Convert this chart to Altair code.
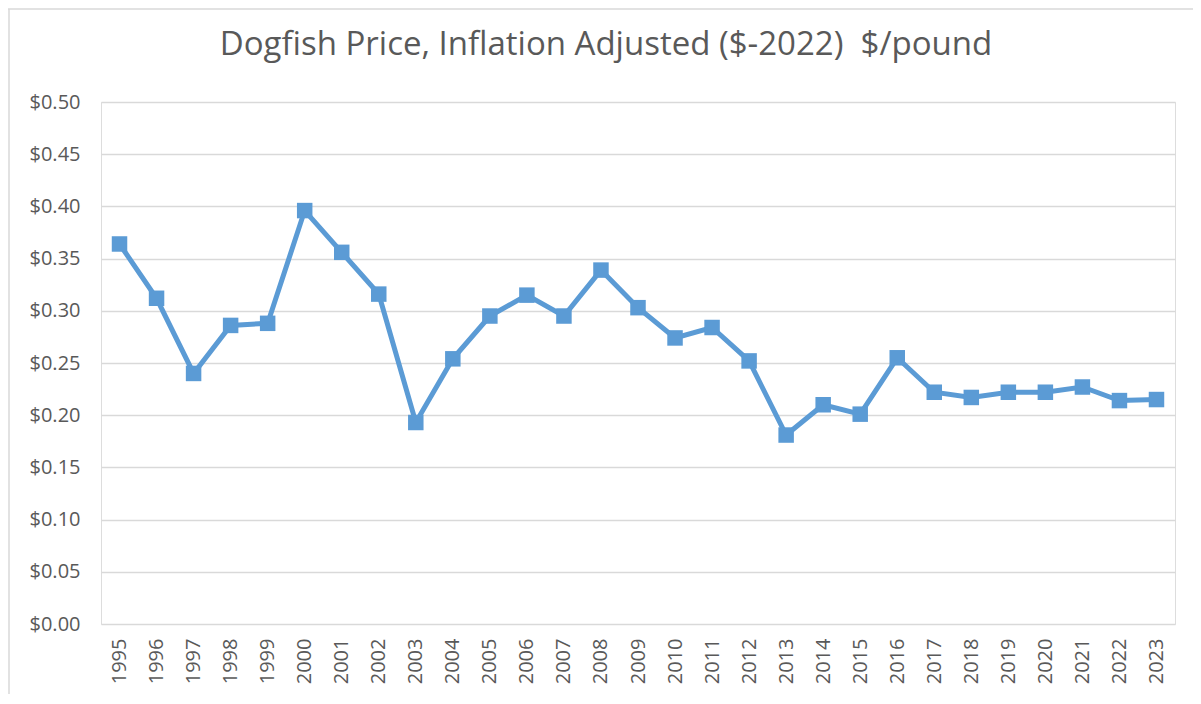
import altair as alt
import pandas as pd

years = [str(y) for y in range(1995, 2024)]
prices = [0.364, 0.312, 0.240, 0.286, 0.288, 0.396, 0.356, 0.316, 0.193, 0.254,
          0.295, 0.315, 0.295, 0.339, 0.303, 0.274, 0.284, 0.252, 0.181, 0.210,
          0.201, 0.255, 0.222, 0.217, 0.222, 0.222, 0.227, 0.214, 0.215]
y_ticks = [0, 0.05, 0.1, 0.15, 0.2, 0.25, 0.3, 0.35, 0.4, 0.45, 0.5]
title_text = "Dogfish Price, Inflation Adjusted ($-2022)\u00a0 $/pound"

df = pd.DataFrame({"year": years, "price": prices})

FONT = "Open Sans"
GRAY = "#595959"
BLUE = "#5B9BD5"
GRID = "#D9D9D9"

base = alt.Chart(df)

x = alt.X("year:N", sort=years, title=None,
          scale=alt.Scale(paddingInner=0, paddingOuter=0, align=0.5),
          axis=alt.Axis(labelAngle=-90, labelFontSize=20, labelColor=GRAY, labelFont=FONT,
                        ticks=False, domain=False, grid=False,
                        labelPadding=14, labelBaseline="middle"))
y = alt.Y("price:Q", title=None,
          scale=alt.Scale(domain=[0, 0.5]),
          axis=alt.Axis(values=y_ticks,
                        format="$.2f", labelFontSize=20, labelColor=GRAY, labelFont=FONT,
                        ticks=False, domain=False, labelPadding=21,
                        gridColor=GRID, gridWidth=1.5))

one = base.transform_filter(alt.datum.year == "1995")

# chart-area border (only its top and left edges fall inside the picture)
border_top = one.mark_rule(stroke=GRID, strokeWidth=1.5).encode(
    x=alt.value(-93), x2=alt.value(1100), y=alt.value(-93), y2=alt.value(-93)
)
border_left = one.mark_rule(stroke=GRID, strokeWidth=1.5).encode(
    x=alt.value(-92), x2=alt.value(-92), y=alt.value(-93), y2=alt.value(620)
)

title = one.mark_text(font=FONT, fontSize=33, color=GRAY, align="center", baseline="middle").encode(
    x=alt.value(505), y=alt.value(-57), text=alt.value(title_text)
)

line = base.mark_line(color=BLUE, strokeWidth=5).encode(x=x, y=y)
pts = base.mark_point(shape="square", filled=True, opacity=1, color=BLUE, size=240).encode(x=x, y=y)

chart = alt.layer(border_top, border_left, title, line, pts).properties(
    width=1074, height=522,
    autosize=alt.AutoSizeParams(type="none"),
    padding={"left": 93, "top": 94, "right": 18, "bottom": 70},
).configure_view(strokeWidth=0, stroke="transparent").configure(background="white")

chart.save("out.html", embed_options={"renderer": "svg", "actions": False})
